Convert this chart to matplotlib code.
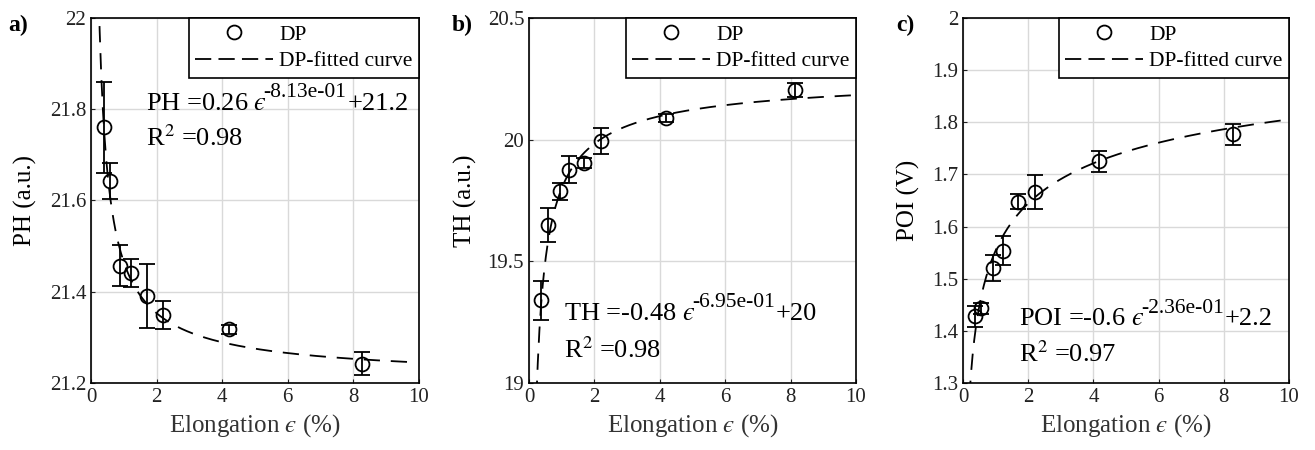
import numpy as np
import matplotlib
matplotlib.use("Agg")
import matplotlib.pyplot as plt
from matplotlib.lines import Line2D

plt.rcParams['font.family'] = ['Liberation Serif', 'DejaVu Serif']
plt.rcParams['mathtext.fontset'] = 'stix'

# ---------------- data ----------------
elong_a = [0.40, 0.58, 0.88, 1.22, 1.71, 2.18, 4.21, 8.27]
ph_vals = [21.76, 21.643, 21.457, 21.441, 21.391, 21.349, 21.318, 21.242]
ph_err = [0.10, 0.04, 0.045, 0.03, 0.07, 0.03, 0.01, 0.025]

elong_b = [0.38, 0.58, 0.94, 1.21, 1.67, 2.21, 4.18, 8.13]
th_vals = [19.34, 19.651, 19.788, 19.877, 19.904, 19.996, 20.089, 20.205]
th_err = [0.08, 0.07, 0.035, 0.055, 0.02, 0.053, 0.015, 0.028]

elong_c = [0.36, 0.56, 0.91, 1.22, 1.70, 2.21, 4.17, 8.29]
poi_vals = [1.428, 1.443, 1.520, 1.554, 1.648, 1.666, 1.725, 1.777]
poi_err = [0.02, 0.01, 0.025, 0.027, 0.015, 0.033, 0.02, 0.02]

# fitted curve parameters: y = a * x^(b) + c
fit_a = [0.26, -0.48, -0.6]
fit_b = [-0.813, -0.695, -0.236]
fit_c = [21.205, 20.28, 2.154]
fit_xmax = [9.7, 10.0, 10.0]

eq_base = [r"PH =0.26 $ϵ$", r"TH =-0.48 $ϵ$", r"POI =-0.6 $ϵ$"]
eq_sup = ["-8.13e-01", "-6.95e-01", "-2.36e-01"]
eq_tail = ["+21.2", "+20", "+2.2"]
r2_texts = [r"R$^{\mathrm{2}}$ =0.98", r"R$^{\mathrm{2}}$ =0.98", r"R$^{\mathrm{2}}$ =0.97"]
ylabels = ["PH (a.u.)", "TH (a.u.)", "POI (V)"]
panel_labels = ["a)", "b)", "c)"]
yticks_list = [[21.2, 21.4, 21.6, 21.8, 22.0],
               [19.0, 19.5, 20.0, 20.5],
               [1.3, 1.4, 1.5, 1.6, 1.7, 1.8, 1.9, 2.0]]
yticklabels_list = [["21.2", "21.4", "21.6", "21.8", "22"],
                    ["19", "19.5", "20", "20.5"],
                    ["1.3", "1.4", "1.5", "1.6", "1.7", "1.8", "1.9", "2"]]
xticks = [0, 2, 4, 6, 8, 10]

xs_all = [elong_a, elong_b, elong_c]
ys_all = [ph_vals, th_vals, poi_vals]
es_all = [ph_err, th_err, poi_err]

# ---------------- figure ----------------
W, H = 1315, 450
fig = plt.figure(figsize=(W / 100, H / 100), dpi=100)

axes_px = [(91, 419), (529, 856), (963, 1289)]
top_px, bot_px = 18, 383
eq_pos = [(0.168, 0.735, 0.67), (0.107, 0.16, 0.09), (0.172, 0.145, 0.08)]
plabel_x = [8, 452, 896]
ylabel_x = [37, 477, 920]

for i in range(3):
    l, r = axes_px[i]
    ax = fig.add_axes([l / W, 1 - bot_px / H, (r - l) / W, (bot_px - top_px) / H])
    yt = yticks_list[i]
    ax.set_xlim(0, 10)
    ax.set_ylim(yt[0], yt[-1])
    ax.set_xticks(xticks)
    ax.set_yticks(yt)
    ax.set_yticklabels(yticklabels_list[i])
    ax.grid(True, color='#d9d9d9', linewidth=1.0)
    ax.set_axisbelow(True)
    ax.tick_params(direction='in', length=3, labelsize=15, colors='#222222')
    for s in ax.spines.values():
        s.set_linewidth(1.2)
        s.set_color('black')

    xf = np.linspace(0.12, fit_xmax[i], 400)
    yf = fit_a[i] * xf ** fit_b[i] + fit_c[i]
    ax.errorbar(xs_all[i], ys_all[i], yerr=es_all[i], fmt='o', mfc='none',
                mec='black', color='black', ms=10, mew=1.3, elinewidth=1.3,
                capsize=6, capthick=1.3, zorder=3)
    ax.plot(xf, yf, color='black', lw=1.3, dashes=(9, 6), zorder=2)

    h_dp = Line2D([], [], ls='none', marker='o', mfc='none', mec='black',
                  ms=10, mew=1.3)
    h_fit = Line2D([], [], color='black', lw=1.3, dashes=(9, 4))
    leg = ax.legend([h_dp, h_fit], ['DP', 'DP-fitted curve'],
                    loc='upper right', borderaxespad=0, fancybox=False,
                    edgecolor='black', framealpha=1, fontsize=15.5,
                    handlelength=3.6, handletextpad=0.3, borderpad=0.3,
                    labelspacing=0.3)
    leg.get_frame().set_linewidth(1.2)

    ex, ey1, ey2 = eq_pos[i]
    t1 = ax.text(ex, ey1, eq_base[i], transform=ax.transAxes, fontsize=19,
                 va='bottom', ha='left')
    t2 = ax.annotate(eq_sup[i], xy=(1, 0), xycoords=t1, xytext=(-2.5, 9),
                     textcoords='offset points', fontsize=15.5,
                     va='bottom', ha='left')
    ax.annotate(eq_tail[i], xy=(1, 0), xycoords=(t2, t1), xytext=(0.5, 0),
                textcoords='offset points', fontsize=19, va='bottom', ha='left')
    ax.text(ex, ey2, r2_texts[i], transform=ax.transAxes, fontsize=19,
            va='center', ha='left')
    ax.set_xlabel(r"Elongation $ϵ$ (%)", fontsize=18, color='#333333', labelpad=4)
    ax.set_ylabel(ylabels[i], fontsize=18)
    ax.yaxis.set_label_coords((ylabel_x[i] - l) / (r - l), 0.5)
    fig.text(plabel_x[i] / W, 1 - 25 / H, panel_labels[i], fontsize=17,
             fontweight='bold', va='center', ha='left')

fig.savefig("out.png", dpi=100)
